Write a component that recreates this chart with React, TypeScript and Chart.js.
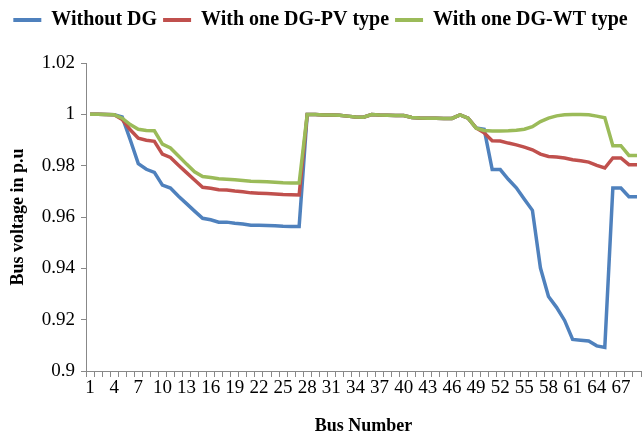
import React, { useEffect, useRef } from "react";
import { Chart, registerables } from "chart.js";

Chart.register(...registerables);

const busNumbers: string[] = Array.from({ length: 69 }, (_, i) => String(i + 1));

const withoutDG: number[] = [
  1.0, 1.0, 0.9999, 0.9998, 0.999, 0.9901, 0.9808, 0.9786, 0.9774, 0.9724,
  0.9713, 0.9681, 0.9652, 0.9623, 0.9595, 0.9589, 0.958, 0.958, 0.9576, 0.9573,
  0.9568, 0.9568, 0.9567, 0.9566, 0.9564, 0.9563, 0.9563, 0.9999, 0.9999, 0.9997,
  0.9997, 0.9996, 0.9993, 0.999, 0.9989, 0.9999, 0.9997, 0.9996, 0.9995, 0.9995,
  0.9988, 0.9986, 0.9985, 0.9985, 0.9984, 0.9984, 0.9998, 0.9985, 0.9947, 0.9942,
  0.9785, 0.9785, 0.9747, 0.9714, 0.9669, 0.9626, 0.9401, 0.929, 0.9248, 0.9197,
  0.9123, 0.912, 0.9117, 0.9098, 0.9092, 0.9713, 0.9713, 0.9679, 0.9679,
];

const withPV: number[] = [
  1.0, 1.0, 0.9999, 0.9998, 0.998, 0.994, 0.9907, 0.9899, 0.9895, 0.9845,
  0.9832, 0.9802, 0.9773, 0.9744, 0.9716, 0.9712, 0.9706, 0.9705, 0.9701, 0.9698,
  0.9694, 0.9693, 0.9692, 0.969, 0.9688, 0.9687, 0.9686, 0.9999, 0.9999, 0.9997,
  0.9997, 0.9996, 0.9993, 0.999, 0.9989, 0.9999, 0.9997, 0.9996, 0.9995, 0.9995,
  0.9988, 0.9986, 0.9985, 0.9985, 0.9984, 0.9984, 0.9998, 0.9985, 0.9947, 0.9928,
  0.9897, 0.9896, 0.9888, 0.9881, 0.9872, 0.9862, 0.9845, 0.9836, 0.9834, 0.983,
  0.9823, 0.9819, 0.9814, 0.9801, 0.9791, 0.983, 0.983, 0.9804, 0.9804,
];

const withWT: number[] = [
  1.0, 1.0, 0.9999, 0.9998, 0.9985, 0.996, 0.9942, 0.9937, 0.9936, 0.9884,
  0.9869, 0.9838, 0.9806, 0.9776, 0.9758, 0.9754, 0.9749, 0.9747, 0.9745, 0.9742,
  0.9739, 0.9738, 0.9737, 0.9735, 0.9733, 0.9732, 0.9732, 0.9999, 0.9999, 0.9997,
  0.9997, 0.9996, 0.9993, 0.999, 0.9989, 0.9999, 0.9997, 0.9996, 0.9995, 0.9995,
  0.9988, 0.9986, 0.9985, 0.9985, 0.9984, 0.9984, 0.9998, 0.9985, 0.9946, 0.9937,
  0.9935, 0.9935, 0.9936, 0.9938, 0.9942, 0.9952, 0.9972, 0.9985, 0.9994, 0.9998,
  0.9999, 0.9999, 0.9998, 0.9993, 0.9987, 0.9878, 0.9878, 0.984, 0.984,
];

const seriesNames: string[] = ["Without DG", "With one DG-PV type", "With one DG-WT type"];
const seriesColors: string[] = ["#4F81BD", "#C0504D", "#9BBB59"];

const legendGap = {
  id: "legendGap",
  beforeInit(chart: any) {
    const legend = chart.legend;
    if (!legend) return;
    const origFit = legend.fit;
    legend.fit = function () {
      origFit.call(this);
      this.height += 23;
    };
  },
};

export default function App() {
  const canvasRef = useRef<HTMLCanvasElement | null>(null);

  useEffect(() => {
    if (!canvasRef.current) return;
    const serif = "'Liberation Serif', 'Times New Roman', serif";
    const values = [withoutDG, withPV, withWT];
    const chart = new Chart(canvasRef.current, {
      type: "line",
      plugins: [legendGap],
      data: {
        labels: busNumbers,
        datasets: values.map((v, i) => ({
          label: seriesNames[i],
          data: v,
          borderColor: seriesColors[i],
          backgroundColor: seriesColors[i],
          borderWidth: 3.5,
          pointRadius: 0,
          tension: 0,
          order: 2 - i,
        })),
      },
      options: {
        animation: false,
        responsive: false,
        layout: { padding: { left: 0, right: 2, top: 4, bottom: 0 } },
        plugins: {
          tooltip: { enabled: false },
          legend: {
            position: "top",
            labels: {
              font: { family: serif, size: 20, weight: "bold" },
              color: "#000",
              boxWidth: 28,
              boxHeight: 4,
              padding: 6,
              sort: (a: any, b: any) => a.datasetIndex - b.datasetIndex,
              generateLabels: (chart: any) => {
                const items = Chart.defaults.plugins.legend.labels.generateLabels(chart);
                return items.map((it: any) => ({ ...it, lineWidth: 0 }));
              },
            },
          },
        },
        scales: {
          x: {
            offset: true,
            grid: {
              offset: true,
              drawOnChartArea: false,
              drawTicks: true,
              tickLength: 6,
              color: "#888",
            },
            border: { display: true, color: "#888" },
            ticks: {
              autoSkip: false,
              maxRotation: 0,
              minRotation: 0,
              padding: 0,
              color: "#000",
              font: { family: serif, size: 19 },
              callback: (_v: any, index: number) => (index % 3 === 0 ? busNumbers[index] : ""),
            },
            title: {
              display: true,
              text: "Bus Number",
              color: "#000",
              font: { family: serif, size: 18, weight: "bold" },
              padding: { top: 4, bottom: 0 },
            },
            afterFit: (s: any) => {
              s.height = 66;
            },
          },
          y: {
            min: 0.9,
            max: 1.02,
            grid: {
              drawOnChartArea: false,
              drawTicks: true,
              tickLength: 5,
              color: "#888",
            },
            border: { display: true, color: "#888" },
            ticks: {
              stepSize: 0.02,
              color: "#000",
              padding: 6,
              font: { family: serif, size: 19 },
              callback: (v: any) => String(Number(Number(v).toFixed(2))),
            },
            title: {
              display: true,
              text: "Bus voltage in p.u",
              color: "#000",
              font: { family: serif, size: 18, weight: "bold" },
              padding: { top: 8, bottom: 2 },
            },
            afterFit: (s: any) => {
              s.width = 86;
            },
          },
        },
      },
    });
    return () => chart.destroy();
  }, []);

  return (
    <div style={{ position: "fixed", left: 0, top: 0, width: 643, height: 437, background: "#fff" }}>
      <canvas ref={canvasRef} width={643} height={437} style={{ width: 643, height: 437 }} />
    </div>
  );
}
